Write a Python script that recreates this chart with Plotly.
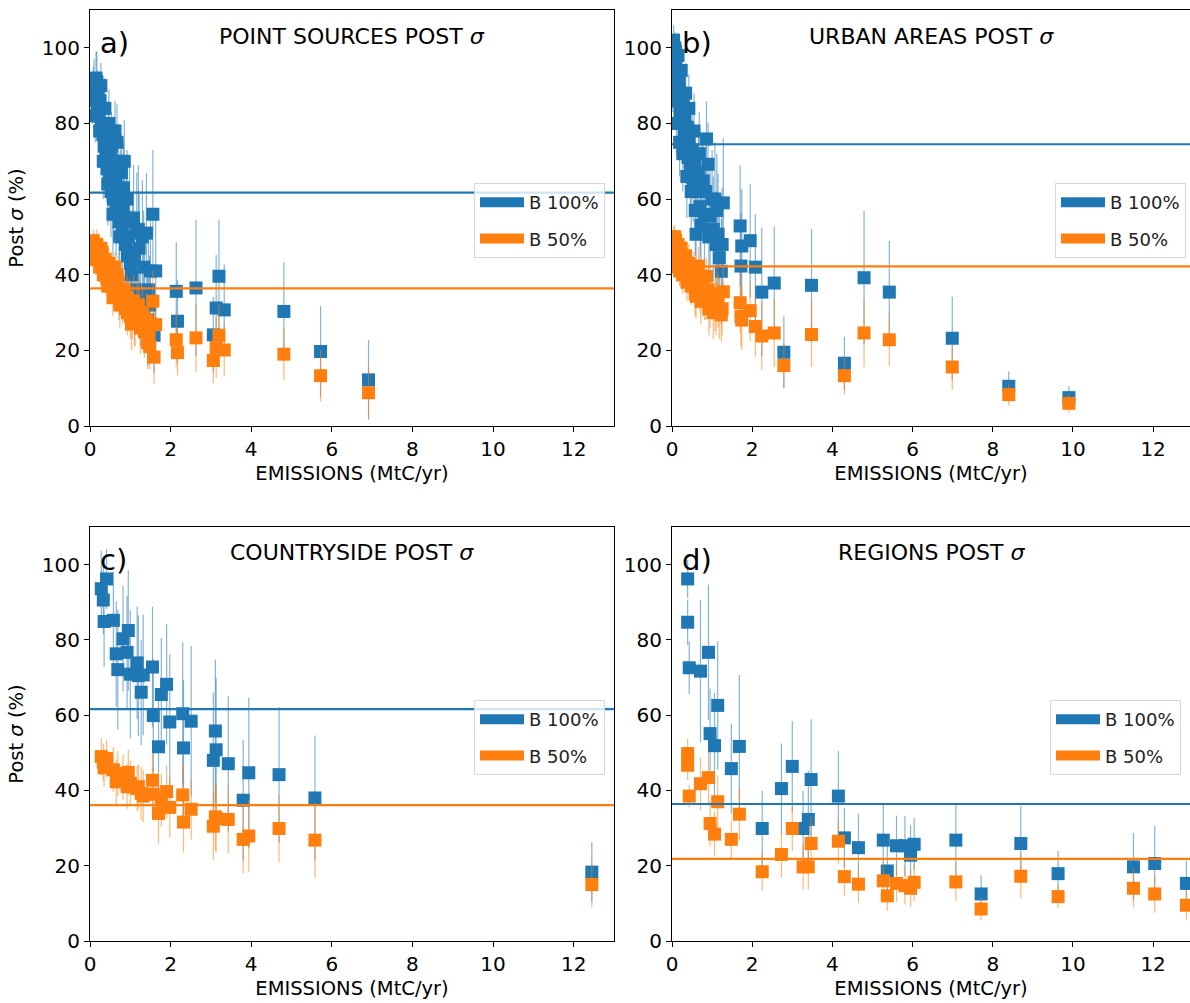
import plotly.graph_objects as go

W, H = 1190, 1003
BLUE = "#1f77b4"
ORANGE = "#ff7f0e"
BLUE_ERR = "rgba(31,119,180,0.55)"
ORANGE_ERR = "rgba(255,127,14,0.55)"
FONT = "DejaVu Sans"

# ---------------- Panel a: POINT SOURCES ----------------
a_emis = [0.10, 0.12, 0.15, 0.18, 0.20, 0.22, 0.25, 0.28, 0.30, 0.32, 0.35, 0.38, 0.40, 0.42,
          0.45, 0.48, 0.50, 0.52, 0.55, 0.58, 0.60, 0.62, 0.65, 0.68, 0.70, 0.72, 0.75, 0.78,
          0.80, 0.82, 0.85, 0.88, 0.90, 0.93, 0.95, 0.98, 1.00, 1.05, 1.10, 1.12, 1.16, 1.20,
          1.25, 1.30, 1.35, 1.40, 1.43, 1.48, 1.50, 1.56, 1.59, 1.63, 2.14, 2.17, 2.63, 3.06,
          3.13, 3.20, 3.33, 4.81, 5.72, 6.91,
          0.06, 0.08, 0.13, 0.17, 0.24, 0.27, 0.33, 0.37, 0.44, 0.47, 0.53, 0.57, 0.64, 0.67,
          0.74, 0.83, 0.92, 1.03, 1.08, 1.22, 1.33, 1.45]
a_b100 = [91, 88, 92, 85, 89, 82, 86, 80, 84, 77, 74, 79, 71, 68,
          75, 65, 72, 62, 69, 60, 66, 78, 57, 63, 70, 54, 61, 67,
          52, 58, 70, 48, 55, 45, 50, 54, 43, 46, 44, 36, 51, 52,
          35, 50, 33, 51, 28, 32, 41, 56, 24, 41, 35.6, 27.7, 36.5, 24.1,
          31.2, 39.6, 30.7, 30.3, 19.7, 12.2,
          86, 90, 82, 91, 78, 90, 70, 84, 64, 80, 74, 56, 65, 75,
          50, 63, 60, 40, 55, 47, 42, 36]
a_e100 = [6, 5, 7, 6, 5, 7, 6, 8, 7, 8, 9, 7, 10, 9,
          8, 11, 9, 12, 10, 11, 10, 8, 12, 11, 10, 13, 12, 10,
          12, 13, 11, 13, 12, 14, 13, 15, 14, 15, 13, 12, 16, 17,
          14, 15, 13, 16, 12, 13, 15, 17, 10, 14, 13, 11, 18, 10,
          14, 15, 12, 13, 12, 10.5,
          6, 5, 7, 8, 8, 6, 10, 8, 11, 9, 9, 12, 11, 10,
          13, 12, 13, 14, 14, 15, 15, 13]
a_b50 = [48, 47, 46, 45, 47, 44, 45, 43, 46, 42, 41, 43, 40, 39,
         41, 38, 40, 37, 39, 36, 37, 42, 35, 36, 38, 34, 35, 36,
         33, 34, 36, 31, 32, 30, 31, 33, 29, 30, 28, 27, 31, 32,
         26, 30, 25, 28, 22, 21, 27, 33, 18.2, 26.8, 22.8, 19.4, 23.3, 17.3,
         20.7, 24, 20.1, 19, 13.3, 8.8,
         45, 49, 44, 48, 42, 47, 40, 44, 37, 43, 41, 34, 37, 40,
         32, 35, 34, 27, 33, 30, 27, 24]
a_e50 = [3, 3, 3, 3, 4, 4, 3, 4, 3, 4, 4, 3, 5, 4,
         4, 5, 4, 5, 4, 5, 5, 4, 5, 5, 5, 6, 5, 5,
         6, 6, 5, 6, 6, 6, 6, 6, 6, 7, 7, 6, 7, 7,
         7, 7, 7, 7, 7, 6, 7, 8, 7, 8, 7, 6, 9, 6,
         8, 8, 7, 7, 6.8, 7,
         3, 3, 3, 4, 4, 3, 4, 4, 5, 4, 5, 5, 5, 5,
         6, 6, 6, 7, 7, 7, 7, 7]
a_mean100 = 61.7
a_mean50 = 36.4

# ---------------- Panel b: URBAN AREAS ----------------
b_emis = [0.03, 0.05, 0.07, 0.08, 0.10, 0.12, 0.14, 0.16, 0.18, 0.20, 0.22, 0.25, 0.28, 0.30,
          0.32, 0.35, 0.38, 0.40, 0.43, 0.46, 0.50, 0.53, 0.56, 0.60, 0.63, 0.66, 0.70, 0.74,
          0.78, 0.81, 0.86, 0.90, 0.95, 1.00, 1.07, 1.10, 1.15, 1.18, 1.23, 1.28, 1.70, 1.72,
          1.74, 1.95, 2.08, 2.24, 2.55, 2.79, 3.48, 4.30, 4.79, 5.42, 6.99, 8.40, 9.90,
          0.02, 0.04, 0.06, 0.09, 0.11, 0.15, 0.19, 0.23, 0.27, 0.34, 0.37, 0.42, 0.48, 0.55,
          0.58, 0.68, 0.72, 0.84, 0.92, 1.03, 1.12, 1.25]
b_b100 = [99, 95, 100, 92, 97, 89, 94, 86, 91, 83, 88, 80, 85, 77,
          82, 74, 79, 71, 76, 68, 73, 65, 70, 50.7, 62, 67, 58, 64,
          64.8, 56, 75.9, 69.2, 55.5, 60, 60, 48, 50.7, 44.5, 40.9, 59, 52.9, 42.3,
          47.6, 49, 42, 35.4, 37.8, 19.5, 37.2, 16.6, 39.2, 35.4, 23.2, 10.5, 7.5,
          88, 102, 86, 99, 80, 98, 75, 94, 72, 88, 66, 84, 62, 78,
          57, 72, 53, 62, 50, 52, 57, 48]
b_e100 = [4, 5, 4, 6, 5, 6, 5, 7, 6, 8, 7, 8, 7, 9,
          8, 10, 9, 10, 9, 11, 10, 11, 10, 12, 12, 11, 13, 12,
          12, 13, 10, 11, 14, 13, 15, 14, 16, 15, 14, 17, 16, 14,
          15, 15, 14, 17, 15, 9.5, 15, 7, 17.7, 13.5, 11, 4, 3,
          5, 4, 6, 5, 8, 6, 9, 7, 10, 8, 11, 9, 12, 10,
          12, 11, 13, 12, 14, 14, 15, 15]
b_b50 = [49, 48, 50, 47, 48, 46, 47, 45, 46, 44, 45, 43, 44, 42,
         43, 41, 42, 40, 41, 39, 40, 38, 39, 34.3, 37, 42.3, 36, 37,
         35, 34, 39.6, 36, 33, 34, 32.1, 31, 33, 30, 29.4, 35.5, 32.6, 29,
         28, 30.5, 26.3, 23.8, 24.6, 16, 24.2, 13.3, 24.6, 22.8, 15.6, 8.3, 6,
         45, 50, 44, 49, 42, 48, 41, 47, 40, 45, 38, 43, 37, 41,
         35, 39, 33, 34, 31, 30, 35, 31]
b_e50 = [3, 3, 3, 3, 3, 3, 3, 4, 3, 4, 4, 4, 4, 4,
         4, 5, 4, 5, 5, 5, 5, 5, 5, 6, 6, 5, 6, 6,
         6, 6, 5, 6, 7, 6, 7, 7, 7, 7, 7, 7, 8, 8,
         8, 8, 8, 9, 9, 6, 8.6, 5, 9, 7, 6, 3, 2.5,
         3, 3, 3, 3, 4, 3, 4, 4, 5, 4, 5, 5, 5, 5,
         6, 6, 6, 6, 7, 7, 7, 7]
b_mean100 = 74.5
b_mean50 = 42.2

# ---------------- Panel c: COUNTRYSIDE ----------------
c_emis = [0.28, 0.33, 0.41, 0.35, 0.58, 0.65, 0.69, 0.82, 0.92, 0.95, 1.00, 1.17, 1.20, 1.27,
          1.32, 1.55, 1.57, 1.70, 1.77, 1.90, 1.98, 2.30, 2.32, 2.51, 3.06, 3.11, 3.13, 3.43,
          3.80, 3.94, 4.69, 5.58, 12.45]
c_b100 = [93.6, 90.6, 96.2, 84.9, 85.2, 76.3, 72.1, 80.3, 76.7, 82.5, 70.9, 73.9, 70.5, 66.1,
          70.7, 72.8, 59.9, 51.6, 65.5, 68.2, 58.2, 60.4, 51.3, 58.4, 48.0, 55.8, 50.8, 47.1,
          37.4, 44.7, 44.2, 38.0, 18.3]
c_e100 = [10, 9, 8, 12, 13, 14, 16, 14, 15, 16, 17, 15, 16, 14,
          16, 16, 15, 14, 15, 16, 18, 19, 18, 20, 18, 19, 19, 18,
          16, 20, 18, 16.6, 8]
c_b50 = [49.0, 47.5, 48.5, 46.0, 45.5, 42.3, 44.5, 43.5, 41.0, 44.8, 41.9, 40.5, 41.0, 39.2,
         38.5, 42.7, 39.0, 33.9, 37.4, 39.7, 35.5, 38.8, 31.6, 35.0, 30.5, 33.0, 32.5, 32.3,
         27.0, 27.9, 29.9, 26.8, 15.0]
c_e50 = [5, 5, 5, 5, 6, 6, 6, 6, 6, 6, 6, 6, 6, 7,
         7, 7, 7, 8, 7, 7, 8, 8, 8, 8, 9, 9, 9, 9,
         9, 9.5, 9, 10, 6]
c_mean100 = 61.6
c_mean50 = 36.1

# ---------------- Panel d: REGIONS ----------------
d_emis = [0.39, 0.39, 0.43, 0.71, 0.91, 0.95, 1.06, 1.14, 1.48, 1.68, 2.25, 2.73, 3.00, 3.27,
          3.40, 3.47, 4.15, 4.30, 4.65, 5.27, 5.37, 5.60, 5.81, 5.95, 6.04, 7.08, 7.71, 8.70,
          9.63, 11.51, 12.04, 12.83]
d_b100 = [96.2, 84.7, 72.6, 71.7, 76.7, 55.1, 51.9, 62.6, 45.8, 51.7, 29.9, 40.5, 46.4, 29.9,
          32.3, 42.9, 38.5, 27.4, 24.8, 26.8, 18.6, 25.3, 25.3, 22.8, 25.7, 26.8, 12.5, 25.9,
          17.9, 19.7, 20.6, 15.3]
d_e100 = [5, 6, 7, 19, 18, 12, 14, 17, 12, 19, 10, 12, 12, 10,
          13, 16, 12, 8, 9, 9.5, 7, 8, 8, 8, 7, 9.5, 5, 10,
          6, 9, 10, 6]
d_b50 = [49.8, 46.7, 38.5, 41.8, 43.4, 31.2, 28.4, 37.0, 27.0, 33.7, 18.4, 23.0, 29.9, 19.7,
         19.7, 25.9, 26.5, 17.1, 15.1, 16.0, 12.0, 15.3, 14.7, 14.0, 15.6, 15.7, 8.5, 17.2,
         11.8, 14.0, 12.5, 9.5]
d_e50 = [4, 4, 3, 7, 7, 6, 6, 7, 5, 7, 5, 6, 6, 6,
         6, 7, 6, 5, 5, 5, 4, 5, 5, 5, 5, 5, 3, 6,
         3, 5, 5, 4]
d_mean100 = 36.4
d_mean50 = 21.8

panels = [
    dict(label="a)", title="POINT SOURCES POST <i>σ</i>", emis=a_emis, b100=a_b100, e100=a_e100,
         b50=a_b50, e50=a_e50, m100=a_mean100, m50=a_mean50, xmax=13.0, ytitle=True),
    dict(label="b)", title="URBAN AREAS POST <i>σ</i>", emis=b_emis, b100=b_b100, e100=b_e100,
         b50=b_b50, e50=b_e50, m100=b_mean100, m50=b_mean50, xmax=12.92, ytitle=False),
    dict(label="c)", title="COUNTRYSIDE POST <i>σ</i>", emis=c_emis, b100=c_b100, e100=c_e100,
         b50=c_b50, e50=c_e50, m100=c_mean100, m50=c_mean50, xmax=13.0, ytitle=True),
    dict(label="d)", title="REGIONS POST <i>σ</i>", emis=d_emis, b100=d_b100, e100=d_e100,
         b50=d_b50, e50=d_e50, m100=d_mean100, m50=d_mean50, xmax=12.92, ytitle=False),
]

x_domains = [[90 / W, 614 / W], [672 / W, 1.0], [90 / W, 614 / W], [672 / W, 1.0]]
y_domains = [[(H - 426) / H, (H - 10) / H], [(H - 426) / H, (H - 10) / H],
             [(H - 941) / H, (H - 527) / H], [(H - 941) / H, (H - 527) / H]]
legend_pos = [(605 / W, 1 - 183 / H), (1186 / W, 1 - 183 / H),
              (605 / W, 1 - 700 / H), (1181 / W, 1 - 700 / H)]

fig = go.Figure()
annotations = []
layout = {}

for i, p in enumerate(panels, start=1):
    sfx = "" if i == 1 else str(i)
    xref, yref = "x" + sfx, "y" + sfx
    leg = "legend" + sfx

    fig.add_trace(go.Scatter(
        x=p["emis"], y=p["b100"], mode="markers", xaxis=xref, yaxis=yref,
        marker=dict(symbol="square", size=13, color=BLUE, line=dict(width=0)),
        error_y=dict(type="data", array=p["e100"], color=BLUE_ERR, thickness=1.2, width=0),
        showlegend=False, name="B 100%"))
    fig.add_trace(go.Scatter(
        x=p["emis"], y=p["b50"], mode="markers", xaxis=xref, yaxis=yref,
        marker=dict(symbol="square", size=13, color=ORANGE, line=dict(width=0)),
        error_y=dict(type="data", array=p["e50"], color=ORANGE_ERR, thickness=1.2, width=0),
        showlegend=False, name="B 50%"))
    fig.add_trace(go.Scatter(
        x=[0, p["xmax"]], y=[p["m100"], p["m100"]], mode="lines", xaxis=xref, yaxis=yref,
        line=dict(color=BLUE, width=2.2), showlegend=False, hoverinfo="skip"))
    fig.add_trace(go.Scatter(
        x=[0, p["xmax"]], y=[p["m50"], p["m50"]], mode="lines", xaxis=xref, yaxis=yref,
        line=dict(color=ORANGE, width=2.2), showlegend=False, hoverinfo="skip"))
    # legend keys
    for nm, col in (("B 100%", BLUE), ("B 50%", ORANGE)):
        fig.add_trace(go.Scatter(
            x=[None], y=[None], mode="lines", xaxis=xref, yaxis=yref,
            line=dict(color=col, width=12), name=nm, legend=leg,
            legendgroup=f"{nm}{i}", showlegend=True))

    lx, ly = legend_pos[i - 1]
    layout[leg] = dict(
        x=lx, y=ly, xanchor="right", yanchor="top", xref="paper", yref="paper",
        bgcolor="rgba(255,255,255,0.8)", bordercolor="#d8d8d8", borderwidth=1,
        font=dict(family=FONT, size=18, color="#222222"), traceorder="grouped",
        tracegroupgap=10, itemwidth=44)

    layout["xaxis" + sfx] = dict(
        domain=x_domains[i - 1], anchor=yref, range=[0, p["xmax"]], automargin=False,
        tickvals=[0, 2, 4, 6, 8, 10, 12], ticks="outside", ticklen=5, tickwidth=1.2,
        tickcolor="black", showline=True, linecolor="black", linewidth=1.2, mirror=True,
        showgrid=False, zeroline=False,
        tickfont=dict(family=FONT, size=20, color="black"),
        title=dict(text="EMISSIONS (MtC/yr)", font=dict(family=FONT, size=19.5, color="black"),
                   standoff=6))
    layout["yaxis" + sfx] = dict(
        domain=y_domains[i - 1], anchor=xref, range=[0, 110], automargin=False,
        tickvals=[0, 20, 40, 60, 80, 100], ticks="outside", ticklen=5, tickwidth=1.2,
        tickcolor="black", showline=True, linecolor="black", linewidth=1.2,
        mirror=p["ytitle"], showgrid=False, zeroline=False,
        tickfont=dict(family=FONT, size=20, color="black"),
        title=dict(text="Post <i>σ</i> (%)" if p["ytitle"] else "",
                   font=dict(family=FONT, size=19.5, color="black"), standoff=12))

    dx = "x domain" if i == 1 else f"x{i} domain"
    dy = "y domain" if i == 1 else f"y{i} domain"
    annotations.append(dict(text=p["title"], xref=dx, yref=dy, x=0.5, y=1 - 26 / 416,
                            xanchor="center", yanchor="middle", showarrow=False,
                            font=dict(family=FONT, size=22, color="black")))
    annotations.append(dict(text=p["label"], xref=dx, yref=dy, x=0.016, y=1 - 33 / 416,
                            xanchor="left", yanchor="middle", showarrow=False,
                            font=dict(family=FONT, size=29, color="black")))

fig.update_layout(
    width=W, height=H, margin=dict(l=0, r=0, t=0, b=0, autoexpand=False),
    paper_bgcolor="white", plot_bgcolor="white",
    annotations=annotations, **layout)

fig.write_html(
    "out.html",
    config={"displayModeBar": False},
    post_script=("document.body.style.margin='0';"
                 "document.body.style.overflow='hidden';"
                 "document.documentElement.style.overflow='hidden';"))
